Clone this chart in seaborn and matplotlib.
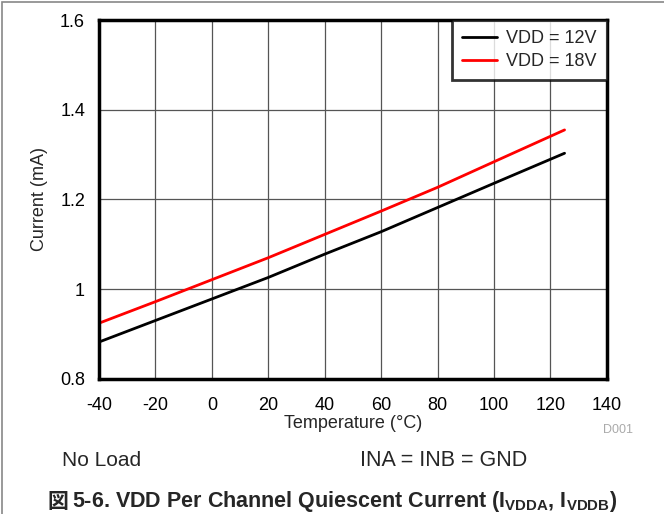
import seaborn as sns
import pandas as pd
import numpy as np
import matplotlib.pyplot as plt
from matplotlib.patches import Rectangle

temperature = [-40, -20, 0, 20, 40, 60, 80, 100, 125]
current_12v = [0.882, 0.930, 0.978, 1.026, 1.078, 1.128, 1.182, 1.236, 1.303]
current_18v = [0.924, 0.972, 1.021, 1.070, 1.122, 1.174, 1.227, 1.284, 1.355]
series_names = ["VDD = 12V", "VDD = 18V"]
x_ticks = [-40, -20, 0, 20, 40, 60, 80, 100, 120, 140]
y_ticks = [0.8, 1.0, 1.2, 1.4, 1.6]
y_tick_labels = ["0.8", "1", "1.2", "1.4", "1.6"]

df = pd.DataFrame({
    "Temperature": temperature * 2,
    "Current": current_12v + current_18v,
    "Series": [series_names[0]] * len(temperature) + [series_names[1]] * len(temperature),
})

sns.set_style("white")
plt.rcParams['font.family'] = ['Liberation Sans', 'Noto Sans CJK JP']
plt.rcParams['axes.unicode_minus'] = False
plt.rcParams['mathtext.fontset'] = 'custom'
plt.rcParams['mathtext.bf'] = 'Liberation Sans:bold'
plt.rcParams['mathtext.rm'] = 'Liberation Sans'

fig = plt.figure(figsize=(6.64, 5.14), dpi=100)
ax = fig.add_axes([0.149, 0.263, 0.765, 0.698])

sns.lineplot(data=df, x="Temperature", y="Current", hue="Series",
             palette=["black", "#ff0000"], linewidth=2, ax=ax, sort=True)

ax.set_xlim(-40, 140)
ax.set_ylim(0.8, 1.6)
ax.set_xticks(x_ticks)
ax.set_yticks(y_ticks)
ax.set_yticklabels(y_tick_labels)
ax.tick_params(axis="both", length=0, labelsize=13, colors="black")
ax.tick_params(axis="x", pad=13)
ax.tick_params(axis="y", pad=10)
ax.grid(True, color="#555555", linewidth=0.9)
for s in ax.spines.values():
    s.set_linewidth(2.5)
    s.set_color("black")
ax.set_xlabel("Temperature (°C)", fontsize=13, labelpad=1)
ax.set_ylabel("Current (mA)", fontsize=13, labelpad=9)

leg = ax.legend(loc="upper right", fontsize=13, frameon=True, fancybox=False,
                borderaxespad=0, handlelength=1.95, handletextpad=0.5,
                borderpad=0.55, labelspacing=0.35)
leg.get_frame().set_edgecolor("black")
leg.get_frame().set_linewidth(2)
leg.set_title(None)

fig.text(0.953, 0.163, "D001", fontsize=9, color="#aaaaaa", ha="right", va="center")
fig.text(0.093, 0.105, "No Load", fontsize=15, ha="left", va="center")
fig.text(0.542, 0.105, "INA = INB = GND", fontsize=15.5, ha="left", va="center")
fig.text(0.072, 0.025, "図", fontsize=15, fontweight="bold", ha="left", va="center",
         family=["Noto Sans CJK JP"])
fig.text(0.108, 0.025,
         r"5-6. VDD Per Channel Quiescent Current (I$_\mathbf{VDDA}$, I$_\mathbf{VDDB}$)",
         fontsize=15.5, fontweight="bold", ha="left", va="center")

fig.patches.append(Rectangle((0.003, -0.1), 1.1, 1.096, transform=fig.transFigure,
                             fill=False, edgecolor="#888888", linewidth=1.2))

fig.savefig("out.png", dpi=100)
